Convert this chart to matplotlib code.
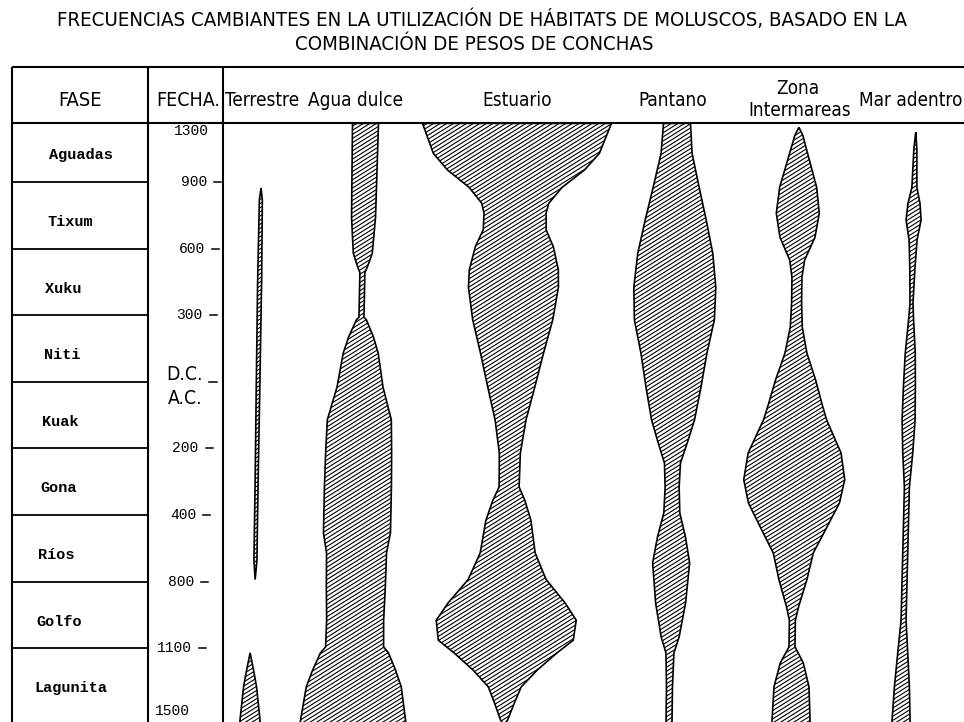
import numpy as np
import matplotlib.pyplot as plt
from matplotlib import font_manager
from matplotlib.patches import Polygon
from matplotlib.collections import LineCollection

# ---- datos ----
titulo1 = "FRECUENCIAS CAMBIANTES EN LA UTILIZACIÓN DE HÁBITATS DE MOLUSCOS, BASADO EN LA"
titulo2 = "COMBINACIÓN DE PESOS DE CONCHAS"

fases = ['Aguadas', 'Tixum', 'Xuku', 'Niti', 'Kuak', 'Gona', 'Ríos', 'Golfo', 'Lagunita']
limites_fase = [1, 2, 3, 4, 5, 6, 7, 8]          # posicion en la escala de tiempo
fechas = ['1300', '900', '600', '300', '200', '400', '800', '1100', '1500']
fechas_pos = [0.24, 1, 2, 3, 5, 6, 7, 8, 8.95]
fechas_tick = [1, 2, 3, 5, 6, 7, 8]
era_pos = 4                                       # D.C. / A.C.

habitats = ['Terrestre', 'Agua dulce', 'Estuario', 'Pantano', 'Zona\nIntermareas', 'Mar adentro']

# frecuencias (ancho del huso) por tiempo
terr_t1 = [1.09, 1.27, 2.5, 4.27, 5.5, 6.68, 6.97]
terr_w1 = [0, 3, 4, 3.5, 3, 3, 0]
terr_t2 = [8.07, 8.33, 8.58, 9.08, 9.2]
terr_w2 = [0, 7, 13, 20, 21]

agua_t = [0.12, 1.53, 2.07, 2.27, 2.36, 3.03, 3.07, 3.33, 3.57, 4.08, 4.57, 5.07, 5.58,
          6.27, 6.57, 7.08, 7.58, 7.98, 8.07, 8.33, 8.58, 9.08, 9.2]
agua_w = [26, 24, 19, 10, 5, 5, 10, 25, 35, 46, 64, 66, 67,
          67, 60, 59, 57, 58, 68, 83, 95, 105, 107]

estu_t = [0.12, 0.57, 0.82, 1.08, 1.32, 1.47, 1.72, 1.97, 2.32, 2.58, 3.07, 3.57, 4.08,
          4.57, 5.07, 5.58, 5.78, 6.08, 6.57, 6.97, 7.32, 7.58, 7.88, 8.07, 8.33, 8.58,
          8.82, 9.08, 9.15]
estu_w = [189, 166, 137, 93, 67, 62, 63, 78, 89, 90, 80, 63, 47,
          31, 21, 20, 32, 45, 55, 78, 117, 140, 135, 103, 64, 33,
          20, 7, 0]

pant_t = [0.12, 0.57, 1.08, 1.57, 2.07, 2.58, 3.07, 3.57, 4.08, 4.57, 4.87, 5.22, 5.58,
          5.97, 6.33, 6.72, 7.32, 7.83, 8.07, 8.58, 9.2]
pant_w = [27, 31, 46, 61, 75, 82, 80, 66, 55, 43, 31, 16, 14,
          16, 28, 37, 30, 18, 8, 6, 6]

zona_t = [0.18, 0.3, 0.57, 1.08, 1.47, 1.83, 2.17, 2.43, 2.82, 3.18, 3.57, 3.97, 4.32,
          4.57, 5.07, 5.47, 5.82, 6.22, 6.57, 6.97, 7.38, 7.58, 7.98, 8.22, 8.58, 9.08, 9.2]
zona_w = [0, 8, 18, 37, 43, 35, 15, 10, 10, 12, 22, 40, 53,
          63, 93, 101, 91, 64, 40, 28, 12, 6, 6, 23, 35, 38, 38]

mar_t = [0.25, 0.5, 1.08, 1.32, 1.57, 1.87, 2.32, 2.82, 3.07, 3.57, 4.08, 4.57, 5.07,
         5.58, 7.58, 8.07, 8.58, 9.08, 9.2]
mar_w = [0, 3, 5, 12, 15, 8, 5, 3, 5, 10, 12, 13, 10,
         5, 5, 10, 15, 18, 18]

# ---- disposicion ----
Y0, DY = 115.4, 66.6          # pixel de la posicion 0 y pixeles por paso


def py(ypix):
    return (ypix - Y0) / DY


def fuente_estrecha():
    # busca una sans condensada instalada
    for f in font_manager.fontManager.ttflist:
        if f.name == 'Liberation Sans Narrow' and f.weight in (400, 'normal', 'regular') \
                and f.style == 'normal':
            return font_manager.FontProperties(fname=f.fname), 1.0
    for f in font_manager.fontManager.ttflist:
        if 'SansCondensed.ttf' in f.fname:
            return font_manager.FontProperties(fname=f.fname), 1.03
    return font_manager.FontProperties(family='Liberation Sans'), 0.9


narrow, escala = fuente_estrecha()
mono = 'Liberation Mono'


def ntext(x, y, s, size, **kw):
    fp = narrow.copy()
    fp.set_size(size * escala)
    ax.text(x, y, s, fontproperties=fp, **kw)


fig = plt.figure(figsize=(9.64, 7.22), dpi=100)
ax = fig.add_axes([0, 0, 1, 1])
ax.set_xlim(0, 964)
ax.set_ylim(py(722), py(0))
ax.axis('off')

# titulo
ntext(482, py(20), titulo1, 14.2, ha='center', va='center')
ntext(474, py(44), titulo2, 14.2, ha='center', va='center')

# tabla
top, head = py(67), py(123)
lk = dict(color='black', lw=1.5, solid_capstyle='butt')
ax.plot([12, 964], [top, top], **lk)
ax.plot([12, 964], [head, head], **lk)
for x in [12, 148, 223]:
    ax.plot([x, x], [top, py(725)], **lk)
for b in limites_fase:
    ax.plot([12, 148], [b, b], color='black', lw=1.3)

ntext(80, py(100), 'FASE', 14, ha='center', va='center')
ntext(188, py(100), 'FECHA.', 13.6, ha='center', va='center')
hab_x = [262, 355, 517, 673, 800, 911]
for h, x in zip(habitats, hab_x):
    if '\n' in h:
        a, b2 = h.split('\n')
        ntext(x - 2, py(88), a, 13.2, ha='center', va='center')
        ntext(x, py(111), b2, 13.2, ha='center', va='center')
    else:
        ntext(x, py(101), h, 13.2, ha='center', va='center')

# fases
for i, f in enumerate(fases):
    ax.text(49 - 1.8 * i, i + 0.6, f, ha='left', va='center', fontsize=11,
            family=mono, weight='bold')

# fechas
for lab, pos in zip(fechas, fechas_pos):
    ax.text(209 - 2.1 * pos, pos, lab, ha='right', va='center', fontsize=10.5, family=mono)
for pos in fechas_tick:
    xr = 209 - 2.1 * pos
    ax.plot([xr + 7, xr + 14], [pos, pos], color='black', lw=1.1)
ntext(185, py(375), 'D.C.', 13.5, ha='center', va='center')
ntext(185, py(399), 'A.C.', 13.5, ha='center', va='center')
ax.plot([209, 217], [era_pos, era_pos], color='black', lw=1.1)

# husos
ANG = np.tan(np.radians(32))
PASO = 3.5


def huso(t, w, c0, c1):
    t = np.asarray(t, float)
    w = np.asarray(w, float)
    c = c0 + (c1 - c0) * (t - 0.12) / 9.0
    izq, der = c - w / 2, c + w / 2
    verts = np.vstack([np.column_stack([izq, t]),
                       np.column_stack([der[::-1], t[::-1]])])
    fondo = Polygon(verts, closed=True, facecolor='white', edgecolor='none', zorder=2)
    ax.add_patch(fondo)
    # rayado diagonal
    x0, x1 = izq.min() - 2, der.max() + 2
    y0, y1 = Y0 + DY * t.min(), Y0 + DY * t.max()
    segs = []
    for b in np.arange(y0 + ANG * x0, y1 + ANG * x1, PASO / np.cos(np.arctan(ANG))):
        segs.append([(x0, py(b - ANG * x0)), (x1, py(b - ANG * x1))])
    lc = LineCollection(segs, colors='black', linewidths=0.8, zorder=2.5)
    ax.add_collection(lc)
    lc.set_clip_path(fondo)
    ax.add_patch(Polygon(verts, closed=True, fill=False, edgecolor='black',
                         lw=1.2, zorder=3))


huso(terr_t1, terr_w1, 262, 253)
huso(terr_t2, terr_w2, 251, 250)
huso(agua_t, agua_w, 365.5, 353)
huso(estu_t, estu_w, 517, 504)
huso(pant_t, pant_w, 677, 669)
huso(zona_t, zona_w, 799, 791)
huso(mar_t, mar_w, 916, 901)

fig.savefig('out.png', dpi=100, facecolor='white')
